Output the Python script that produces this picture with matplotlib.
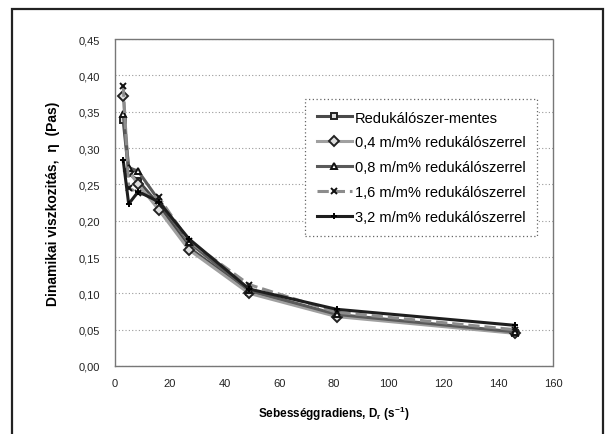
import matplotlib

matplotlib.use("Agg")
import matplotlib.pyplot as plt
from matplotlib.patches import Rectangle

plt.rcParams["font.family"] = ["Liberation Sans", "DejaVu Sans"]
plt.rcParams["mathtext.fontset"] = "custom"
plt.rcParams["mathtext.rm"] = "Liberation Sans"
plt.rcParams["mathtext.bf"] = "Liberation Sans:bold"

# Sebességgradiens (1/s)
SEBESSEG = [3, 5, 8.5, 16, 27, 49, 81, 146]

# Dinamikai viszkozitás (Pas), soronként egy minta
MENTES = [0.338, 0.265, 0.255, 0.222, 0.163, 0.102, 0.070, 0.046]
REDUKALO_04 = [0.372, 0.268, 0.250, 0.215, 0.160, 0.100, 0.068, 0.045]
REDUKALO_08 = [0.347, 0.273, 0.268, 0.228, 0.170, 0.104, 0.071, 0.047]
REDUKALO_16 = [0.386, 0.245, 0.238, 0.232, 0.172, 0.112, 0.074, 0.050]
REDUKALO_32 = [0.283, 0.223, 0.240, 0.226, 0.175, 0.106, 0.078, 0.056]

CIMKEK = [
    "Redukálószer-mentes",
    "0,4 m/m% redukálószerrel",
    "0,8 m/m% redukálószerrel",
    "1,6 m/m% redukálószerrel",
    "3,2 m/m% redukálószerrel",
]

X_TICKS = list(range(0, 161, 20))
Y_TICKS = [0.00, 0.05, 0.10, 0.15, 0.20, 0.25, 0.30, 0.35, 0.40, 0.45]

STILUSOK = [
    dict(color="#4a4a4a", ls="-", marker="s", mfc="#dddddd", mec="#222222"),
    dict(color="#a0a0a0", ls="-", marker="D", mfc="#dddddd", mec="#222222"),
    dict(color="#5a5a5a", ls="-", marker="^", mfc="white", mec="#111111"),
    dict(color="#8c8c8c", ls="--", marker="x", mfc="none", mec="#111111"),
    dict(color="#1e1e1e", ls="-", marker="+", mfc="none", mec="#000000"),
]


def main() -> None:
    fig = plt.figure(figsize=(6.1, 4.35), dpi=100)
    ax = fig.add_axes([115 / 610, 68 / 435, 438 / 610, 327 / 435])

    # külső keret
    fig.add_artist(
        Rectangle((12 / 610, -0.05), 591 / 610, 1.05 - 10 / 435,
                  transform=fig.transFigure, fill=False, lw=1.6, ec="#222222")
    )

    sorozatok = [MENTES, REDUKALO_04, REDUKALO_08, REDUKALO_16, REDUKALO_32]
    for ertekek, cimke, stilus in zip(sorozatok, CIMKEK, STILUSOK):
        ax.plot(
            SEBESSEG, ertekek, label=cimke, lw=2.2, markersize=5,
            markeredgewidth=1.4, **stilus,
        )

    ax.set_xlim(0, 160)
    ax.set_ylim(0, 0.45)
    ax.set_xticks(X_TICKS)
    ax.set_yticks(Y_TICKS)
    ax.set_yticklabels([f"{v:.2f}".replace(".", ",") for v in Y_TICKS])
    ax.tick_params(axis="both", length=0, labelsize=8, colors="#222222")
    ax.tick_params(axis="y", pad=11)
    ax.tick_params(axis="x", pad=9)

    ax.grid(axis="y", color="#9a9a9a", ls=(0, (1, 2)), lw=0.8)
    ax.set_axisbelow(True)
    for spine in ax.spines.values():
        spine.set_linestyle((0, (1, 1)))
        spine.set_color("#777777")
        spine.set_linewidth(1.0)

    ax.set_xlabel(
        r"Sebességgradiens, D$_\mathbf{r}$ (s$^\mathbf{-1}$)",
        fontsize=8.5, fontweight="bold", labelpad=11,
    )
    ax.set_ylabel(
        "Dinamikai viszkozitás,  η  (Pas)",
        fontsize=10, fontweight="bold", labelpad=13,
    )

    leg = ax.legend(
        loc="upper left", bbox_to_anchor=(0.434, 0.817), borderaxespad=0,
        fontsize=10.5, handlelength=2.4, handletextpad=0.2,
        labelspacing=0.75, borderpad=0.8, fancybox=False, framealpha=1,
    )
    frame = leg.get_frame()
    frame.set_linestyle((0, (1, 2)))
    frame.set_edgecolor("#666666")
    frame.set_linewidth(0.9)

    fig.savefig("out.png", dpi=100)
    plt.close(fig)


if __name__ == "__main__":
    main()
